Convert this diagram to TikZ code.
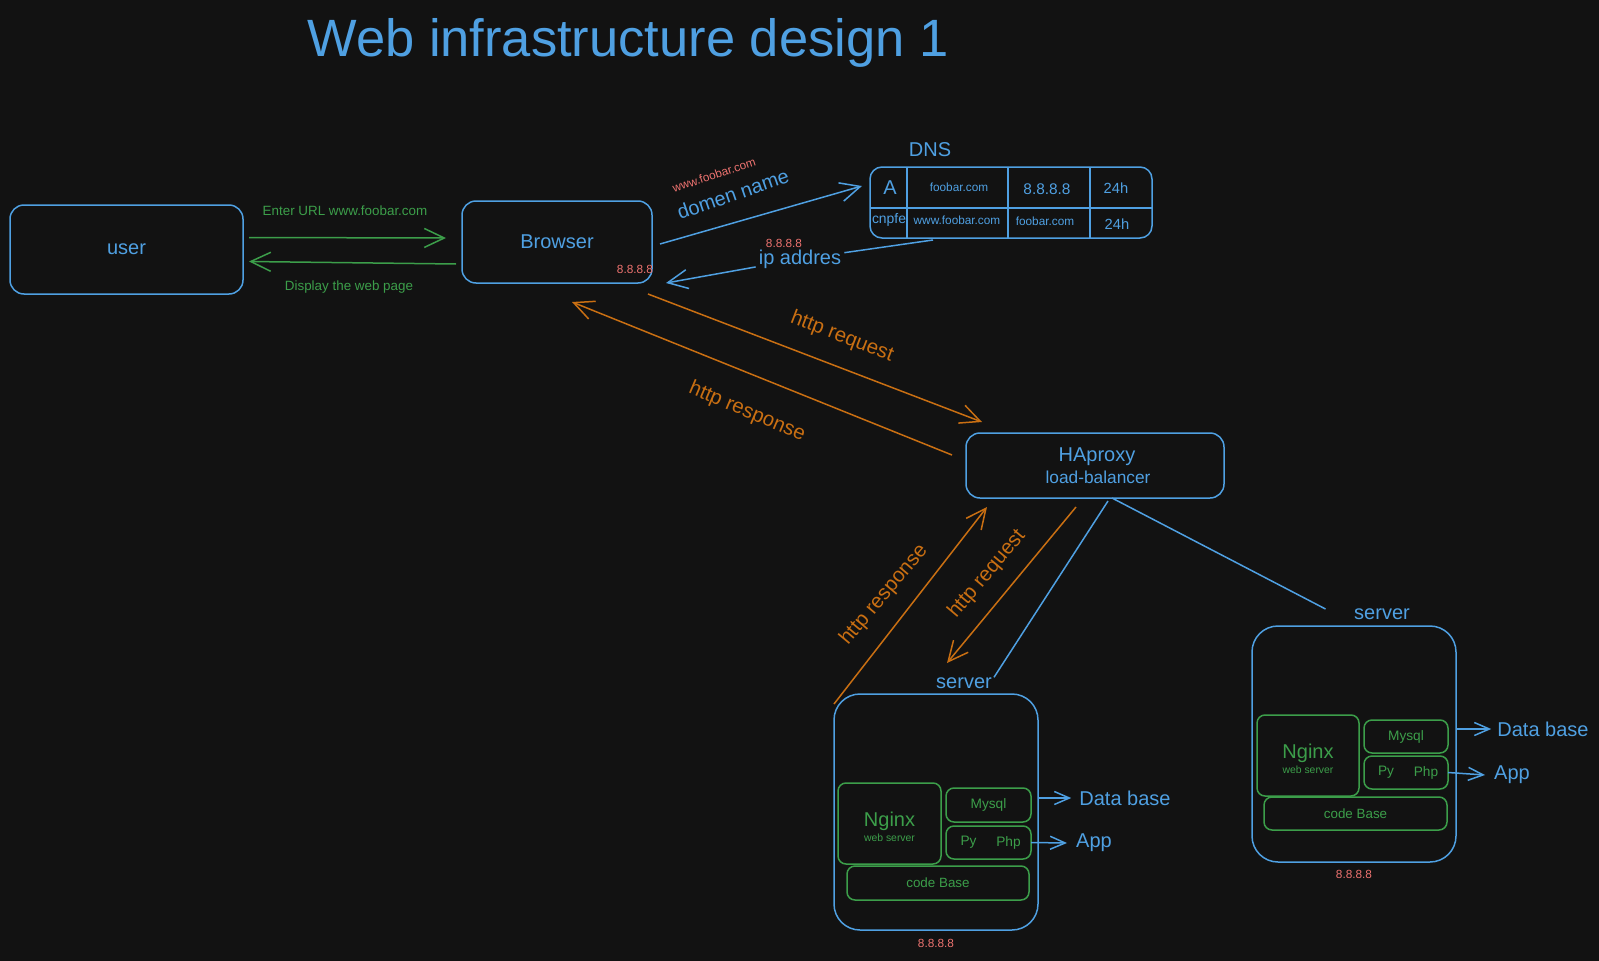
\documentclass[tikz,border=0pt]{standalone}
\usepackage{fontspec}
\setmainfont{Liberation Sans}
\usetikzlibrary{positioning, arrows.meta}

\definecolor{canvas}{HTML}{121212}
\definecolor{infrablue}{HTML}{4FA0E2}
\definecolor{infragreen}{HTML}{3C9E4A}
\definecolor{infraorange}{HTML}{C96F12}
\definecolor{infrared}{HTML}{EE7370}

\begin{document}
\begin{tikzpicture}[x=1pt, y=-1pt,
        pts/.style={font=\fontsize{#1}{#1}\selectfont},
        blue_box/.style={draw=infrablue, line width=1.5pt, rounded corners=14pt, inner sep=0pt, outer sep=0pt},
        srv_box/.style={blue_box, rounded corners=26pt, minimum width=204pt, minimum height=236pt},
        part_box/.style={draw=infragreen, line width=1.5pt, rounded corners=8pt, inner sep=0pt, outer sep=0pt},
        blue_txt/.style={text=infrablue, inner sep=0pt},
        green_txt/.style={text=infragreen, inner sep=0pt},
        orange_txt/.style={text=infraorange, inner sep=0pt},
        red_txt/.style={text=infrared, inner sep=0pt},
        barb_tip/.style={-{Straight Barb[length=20pt, width=19pt]}},
        small_tip/.style={-{Straight Barb[length=15pt, width=13pt]}},
        blue_line/.style={draw=infrablue, line width=1.5pt},
        blue_arrow/.style={blue_line, barb_tip},
        green_arrow/.style={draw=infragreen, line width=1.5pt, barb_tip},
        orange_arrow/.style={draw=infraorange, line width=1.5pt, barb_tip},
        ]
            \useasboundingbox (0,0) rectangle (1599,961);
            \fill[canvas] (0,0) rectangle (1599,961);

            % title
            \node[blue_txt, pts=52.5, anchor=base] (title) at (628,56) {Web infrastructure design 1};

            % client side
            \node[blue_box, minimum width=233pt, minimum height=89pt, text=infrablue, pts=20] (user)    at (126.5,249.5) {user};
            \node[blue_box, minimum width=190pt, minimum height=82pt, text=infrablue, pts=20] (browser) at (557,242)     {Browser};
            \node[red_txt, pts=11.8]   (ip_browser) at (635,269) {8.8.8.8};
            \node[green_txt, pts=13.4] (url_lbl)    at (345,211) {Enter URL www.foobar.com};
            \node[green_txt, pts=13.4] (page_lbl)   at (349,287) {Display the web page};

            % dns
            \node[blue_txt, pts=20] (dns_lbl) at (930,150) {DNS};
            \node[blue_box, rounded corners=12pt, minimum width=282pt, minimum height=71pt] (dns) at (1011,202.5) {};
            \draw[blue_line] ([xshift=37pt]dns.north west)  -- ([xshift=37pt]dns.south west);
            \draw[blue_line] ([xshift=138pt]dns.north west) -- ([xshift=138pt]dns.south west);
            \draw[blue_line] ([xshift=220pt]dns.north west) -- ([xshift=220pt]dns.south west);
            \draw[blue_line] ([yshift=-41pt]dns.north west) -- ([yshift=-41pt]dns.north east);
            \node[blue_txt, pts=20]   (cell_a)    at (890,188)  {A};
            \node[blue_txt, pts=11.8] (cell_a2)   at (959,187)  {foobar.com};
            \node[blue_txt, pts=15.4] (cell_a3)   at (1047,189) {8.8.8.8};
            \node[blue_txt, pts=14.7] (cell_a4)   at (1116,188) {24h};
            \node[blue_txt, pts=13.9] (cell_c)    at (889,220)  {cnpfe};
            \node[blue_txt, pts=11.8] (cell_c2)   at (957,220)  {www.foobar.com};
            \node[blue_txt, pts=11.8] (cell_c3)   at (1045,221) {foobar.com};
            \node[blue_txt, pts=14.7] (cell_c4)   at (1117,224) {24h};
            \node[blue_txt, pts=20, rotate=19]   (domain_lbl) at (733,194) {domen name};
            \node[red_txt, pts=11.8, rotate=18]  (www_lbl)    at (714,175) {www.foobar.com};
            \node[blue_txt, pts=20, inner sep=3pt] (ipaddr_lbl) at (800,259) {ip addres};
            \node[red_txt, pts=11.8]             (ipaddr_val) at (784,243) {8.8.8.8};

            % load balancer
            \node[blue_box, minimum width=258pt, minimum height=65pt] (haproxy) at (1095,465.5) {};
            \node[blue_txt, pts=20]   (ha_lbl) at ([xshift=2pt, yshift=9pt]haproxy.center)  {HAproxy};
            \node[blue_txt, pts=17.3] (lb_lbl) at ([xshift=3pt, yshift=-11.5pt]haproxy.center) {load-balancer};
            \node[orange_txt, pts=20.5, rotate=-21] (req_lbl)    at (842,337) {http request};
            \node[orange_txt, pts=20.5, rotate=-23] (resp_lbl)   at (747,412) {http response};
            \node[orange_txt, pts=20.5, rotate=50]  (resp_lbl_2) at (884,595) {http response};
            \node[orange_txt, pts=20.5, rotate=50]  (req_lbl_2)  at (987,574) {http request};

            % server 1
            \node[blue_txt, pts=20] (srv_lbl_1) at (964,683) {server};
            \node[srv_box] (srv_1) at (936,812) {};
            \node[part_box, minimum width=103pt, minimum height=81pt] (nginx_1) [below right = 89pt and 4pt of srv_1.north west]   {};
            \node[part_box, minimum width=85pt,  minimum height=34pt] (mysql_1) [below right = 94pt and 112pt of srv_1.north west] {};
            \node[part_box, minimum width=85pt,  minimum height=33pt] (py_1)    [below = 4pt of mysql_1]                           {};
            \node[part_box, minimum width=182pt, minimum height=34pt] (code_1)  [below right = 172pt and 13pt of srv_1.north west] {};
            \node[green_txt, pts=20]   (ngx_lbl_1) at ([yshift=2.5pt]nginx_1.center)  {Nginx};
            \node[green_txt, pts=10.4] (ngx_sub_1) at ([yshift=-14.5pt]nginx_1.center) {web server};
            \node[green_txt, pts=13.7] (mysql_lbl_1) at (mysql_1) {Mysql};
            \node[green_txt, pts=13.7] (py_lbl_1)  at ([xshift=-20pt]py_1.center) {Py};
            \node[green_txt, pts=13.7] (php_lbl_1) at ([xshift=20pt]py_1.center)  {Php};
            \node[green_txt, pts=13.4] (code_lbl_1) at (code_1) {code Base};
            \node[red_txt, pts=11.8]   (ip_1) [below = 9pt of srv_1] {8.8.8.8};
            \node[blue_txt, pts=20]    (db_1)  at (1125,798) {Data base};
            \node[blue_txt, pts=20]    (app_1) at (1094,843) {App};

            % server 2
            \node[blue_txt, pts=20] (srv_lbl_2) at (1382,614) {server};
            \node[srv_box] (srv_2) at (1354,744) {};
            \node[part_box, minimum width=102pt, minimum height=81pt] (nginx_2) [below right = 89pt and 5pt of srv_2.north west]   {};
            \node[part_box, minimum width=84pt,  minimum height=33pt] (mysql_2) [below right = 94pt and 112pt of srv_2.north west] {};
            \node[part_box, minimum width=84pt,  minimum height=33pt] (py_2)    [below = 3pt of mysql_2]                           {};
            \node[part_box, minimum width=183pt, minimum height=33pt] (code_2)  [below right = 171pt and 12pt of srv_2.north west] {};
            \node[green_txt, pts=20]   (ngx_lbl_2) at ([yshift=2.5pt]nginx_2.center)  {Nginx};
            \node[green_txt, pts=10.4] (ngx_sub_2) at ([yshift=-14.5pt]nginx_2.center) {web server};
            \node[green_txt, pts=13.7] (mysql_lbl_2) at (mysql_2) {Mysql};
            \node[green_txt, pts=13.7] (py_lbl_2)  at ([xshift=-20pt]py_2.center) {Py};
            \node[green_txt, pts=13.7] (php_lbl_2) at ([xshift=20pt]py_2.center)  {Php};
            \node[green_txt, pts=13.4] (code_lbl_2) at (code_2) {code Base};
            \node[red_txt, pts=11.8]   (ip_2) [below = 8pt of srv_2] {8.8.8.8};
            \node[blue_txt, pts=20]    (db_2)  at (1543,729) {Data base};
            \node[blue_txt, pts=20]    (app_2) at (1512,775) {App};

            % user <-> browser
            \draw[green_arrow] ([xshift=6pt, yshift=12pt]user.east) -- ([xshift=-16pt, yshift=4pt]browser.west);
            \draw[green_arrow] ([xshift=-6pt, yshift=-22pt]browser.west) -- ([xshift=6pt, yshift=-12pt]user.east);

            % browser <-> dns
            \draw[blue_arrow] ([xshift=8pt, yshift=-2pt]browser.east) -- ([xshift=-8pt, yshift=16.5pt]dns.west);
            \draw[blue_arrow] ([xshift=-78pt, yshift=-2pt]dns.south) -- (ipaddr_lbl) -- ([xshift=14pt]browser.south east);

            % browser <-> haproxy
            \draw[orange_arrow] ([xshift=-4pt, yshift=-11pt]browser.south east) -- ([xshift=16pt, yshift=11pt]haproxy.north west);
            \draw[orange_arrow] ([xshift=-14pt, yshift=10.5pt]haproxy.west) -- ([xshift=15pt, yshift=-19pt]browser.south);

            % haproxy <-> servers
            \draw[orange_arrow] ([yshift=-10pt]srv_1.north west) -- ([xshift=21pt, yshift=-9pt]haproxy.south west);
            \draw[orange_arrow] ([xshift=-19pt, yshift=-9pt]haproxy.south) -- ([xshift=-17pt, yshift=20pt]srv_lbl_1.center);
            \draw[blue_line] ([xshift=13pt, yshift=-3pt]haproxy.south) -- ([xshift=2pt]srv_lbl_1.north east);
            \draw[blue_line] ([xshift=17pt]haproxy.south) -- ([xshift=-28.5pt, yshift=5pt]srv_lbl_2.west);

            % outputs
            \draw[blue_line, small_tip] ([yshift=14pt]srv_1.east) -- ([xshift=-8pt]db_1.west);
            \draw[blue_line, small_tip] (py_1.east) -- ([xshift=-9pt]app_1.west);
            \draw[blue_line, small_tip] ([yshift=15pt]srv_2.east) -- ([xshift=-6pt]db_2.west);
            \draw[blue_line, small_tip] (py_2.east) -- ([xshift=-9pt]app_2.west);

\end{tikzpicture}
\end{document}
